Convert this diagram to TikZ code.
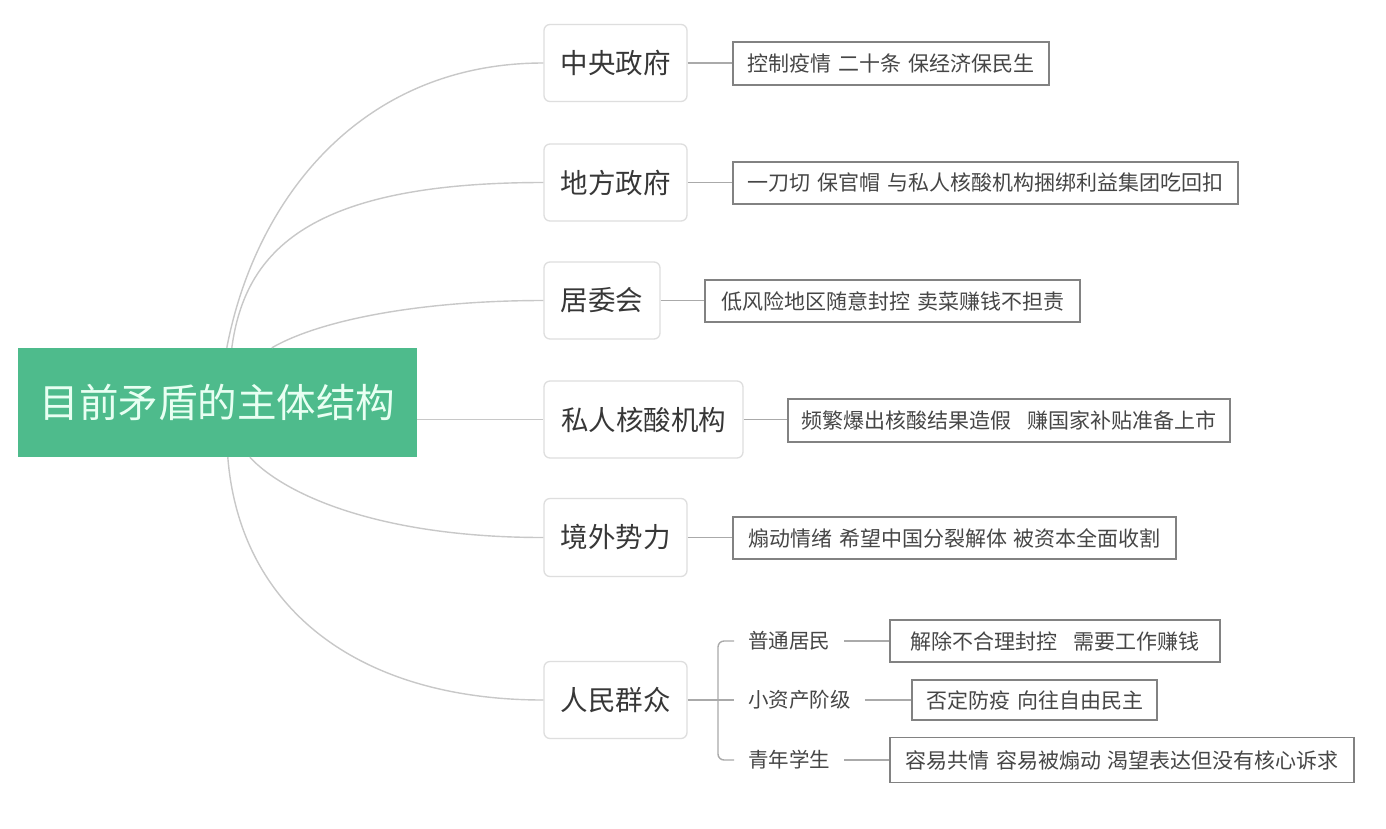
\documentclass[tikz,border=0pt]{standalone}
\usepackage{fontspec}
\setmainfont{Noto Sans CJK SC}
\usetikzlibrary{calc}
\definecolor{rootgreen}{RGB}{78,187,140}
\definecolor{roottext}{RGB}{232,255,242}
\definecolor{curvegray}{RGB}{200,200,200}
\definecolor{linkgray}{RGB}{170,170,170}
\definecolor{mainborder}{RGB}{222,222,222}
\definecolor{detailborder}{RGB}{130,130,130}
\definecolor{maintext}{RGB}{55,55,55}
\definecolor{detailtext}{RGB}{70,70,70}
\newcommand\myspc{\hspace{7pt}}
\newcommand\mywide{\hspace{16pt}}
\begin{document}
\begin{tikzpicture}[x=1pt,y=-1pt,
  rootbox/.style={fill=rootgreen, draw=none, minimum width=399pt, minimum height=109pt, inner sep=0pt, text=roottext, font=\fontsize{39.5}{44}\selectfont},
  mainbox/.style={draw=mainborder, line width=1.3pt, rounded corners=6pt, fill=white, minimum height=77pt, inner sep=0pt, text=maintext, font=\fontsize{27.5}{32}\selectfont},
  detail/.style={draw=detailborder, line width=1.3pt, fill=white, minimum height=42pt, inner sep=0pt, text=detailtext, font=\fontsize{21}{25}\selectfont},
  sublabel/.style={anchor=west, inner xsep=14pt, inner ysep=2pt, text=detailtext, font=\fontsize{20.5}{24}\selectfont},
  curve/.style={draw=curvegray, line width=1.4pt},
  link/.style={draw=linkgray, line width=1.4pt}
]
\useasboundingbox (0,0) rectangle (1386,828);
\fill[white] (0,0) rectangle (1386,828);

% root
\node[rootbox] (root) at (217.5,402.5) {目前矛盾的主体结构};

% main nodes
\node[mainbox, minimum width=143pt] (A) at (615.5,63) {中央政府};
\node[mainbox, minimum width=143pt] (B) at (615.5,182.5) {地方政府};
\node[mainbox, minimum width=116pt] (C) at (602,300.5) {居委会};
\node[mainbox, minimum width=199pt] (D) at (643.5,419.5) {私人核酸机构};
\node[mainbox, minimum width=143pt, minimum height=78pt] (E) at (615.5,537.5) {境外势力};
\node[mainbox, minimum width=143pt] (F) at (615.5,700) {人民群众};

% detail boxes
\node[detail, minimum width=316pt, minimum height=43pt] (a) at (891,63.5) {控制疫情\myspc 二十条\myspc 保经济保民生};
\node[detail, minimum width=505pt] (b) at (985.5,183) {一刀切\myspc 保官帽\myspc 与私人核酸机构捆绑利益集团吃回扣};
\node[detail, minimum width=375pt] (c) at (892.5,301) {低风险地区随意封控\myspc 卖菜赚钱不担责};
\node[detail, minimum width=442pt, minimum height=43pt] (d) at (1009,420.5) {频繁爆出核酸结果造假\mywide 赚国家补贴准备上市};
\node[detail, minimum width=443pt] (e) at (954.5,538) {煽动情绪\myspc 希望中国分裂解体\myspc 被资本全面收割};

% sub labels of 人民群众
\node[sublabel] (s1) at (734,641) {普通居民};
\node[sublabel] (s2) at (734,700) {小资产阶级};
\node[sublabel] (s3) at (734,760) {青年学生};

\node[detail, minimum width=330pt] (f1) at (1055,641) {解除不合理封控\mywide 需要工作赚钱};
\node[detail, minimum width=245pt, minimum height=40pt] (f2) at (1034.5,700) {否定防疫\myspc 向往自由民主};
\node[detail, minimum width=464pt, minimum height=45pt] (f3) at (1122,760) {容易共情\myspc 容易被煽动\myspc 渴望表达但没有核心诉求};

% curves from root to main nodes
\draw[curve] ($(root.north west)+(209,0)$) .. controls (255,200) and (360,63) .. (A.west);
\draw[curve] ($(root.north west)+(214,0)$) .. controls (245,250) and (310,182.5) .. (B.west);
\draw[curve] ($(root.north west)+(254,0)$) .. controls (320,320) and (420,300.5) .. (C.west);
\draw[curve] (root.east |- D.west) -- (D.west);
\draw[curve] ($(root.south west)+(232,0)$) .. controls (285,495) and (380,537.5) .. (E.west);
\draw[curve] ($(root.south west)+(210,0)$) .. controls (240,610) and (360,700) .. (F.west);

% main to detail links
\draw[link] (A.east) -- (A.east -| a.west);
\draw[link] (B.east) -- (B.east -| b.west);
\draw[link] (C.east) -- (C.east -| c.west);
\draw[link] (D.east) -- (D.east -| d.west);
\draw[link] (E.east) -- (E.east -| e.west);

% bracket for 人民群众
\coordinate (br) at (718,700);
\draw[link] (F.east) -- (s2.west);
\draw[link, rounded corners=6pt] (s1.west) -| (br) |- (s3.west);
\draw[link] (s1.east) -- (s1.east -| f1.west);
\draw[link] (s2.east) -- (s2.east -| f2.west);
\draw[link] (s3.east) -- (s3.east -| f3.west);
\end{tikzpicture}
\end{document}
